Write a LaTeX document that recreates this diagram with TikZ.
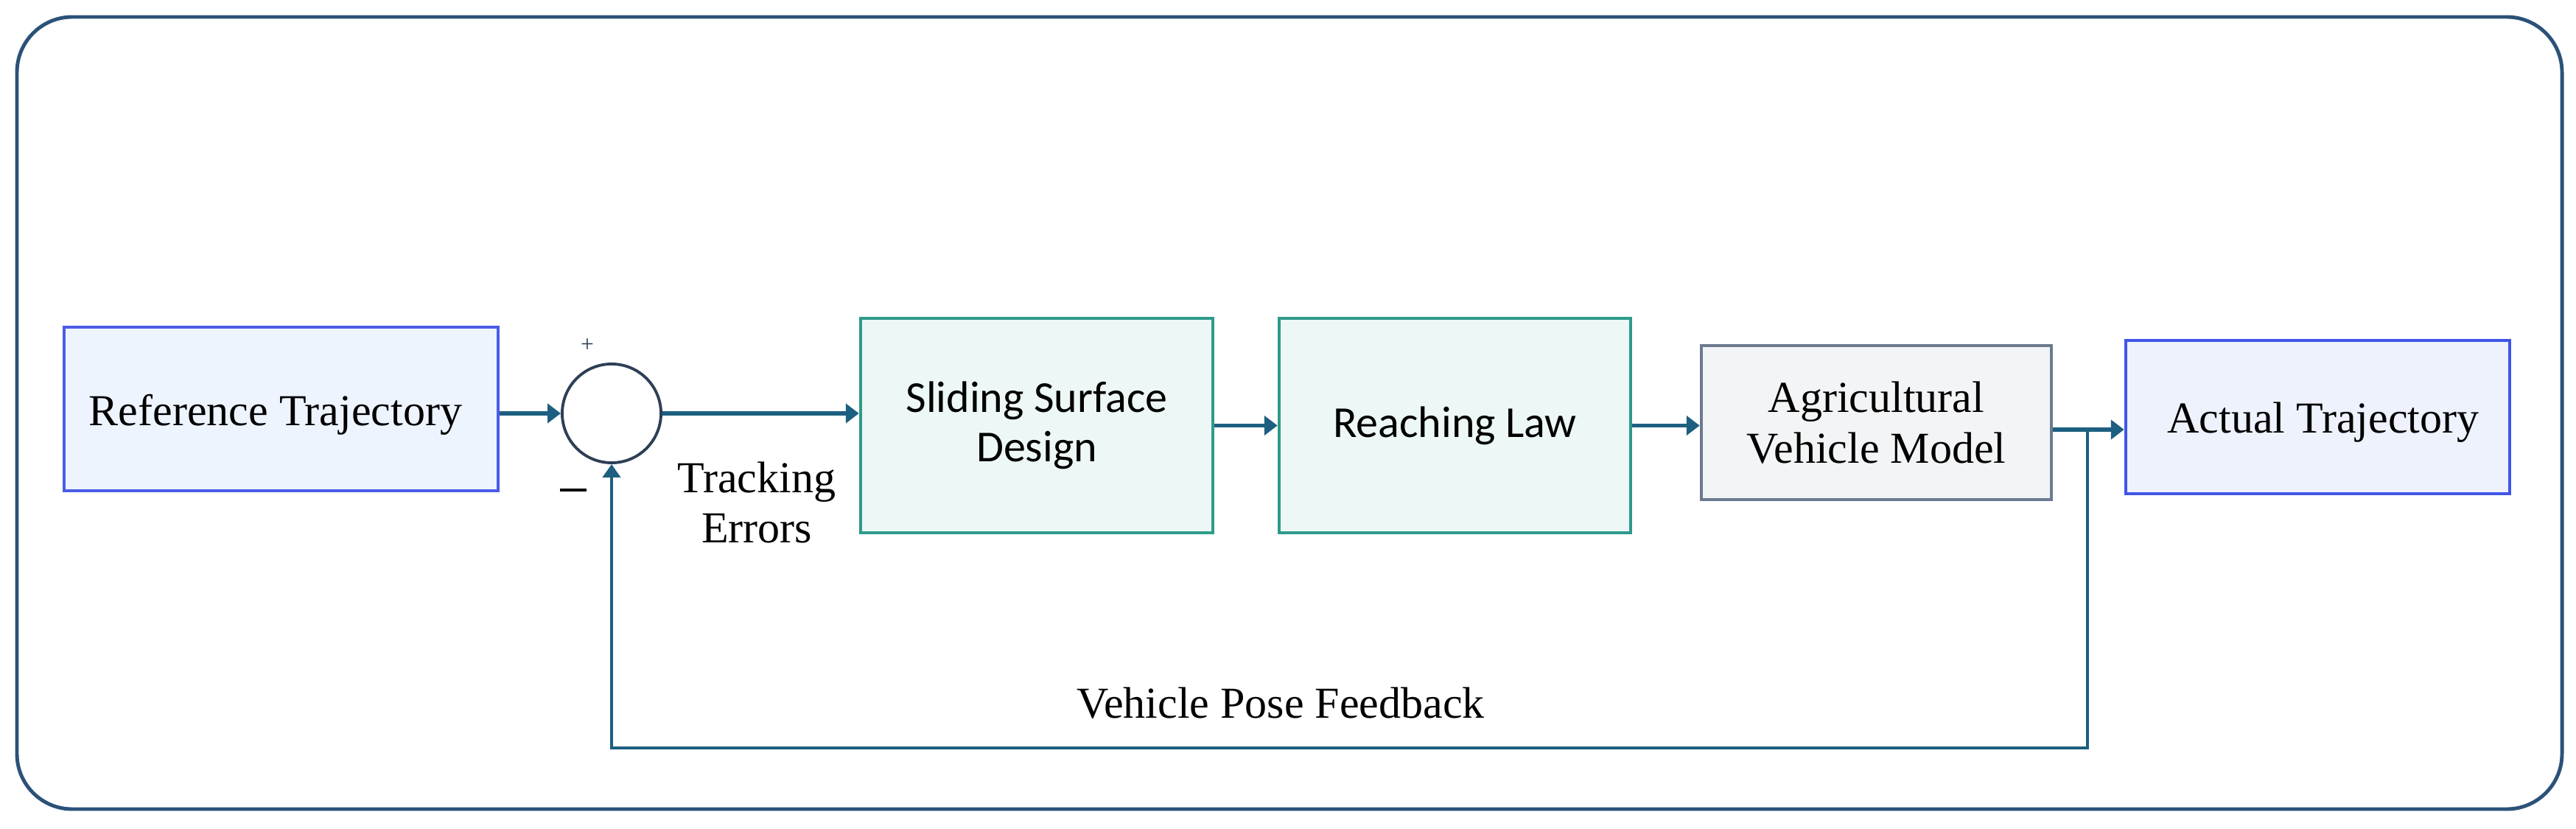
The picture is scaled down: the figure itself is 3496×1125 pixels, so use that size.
\documentclass[tikz,border=0pt]{standalone}
\usepackage{fontspec}
\setmainfont{Liberation Serif}
\newfontfamily\sansf{Carlito}
\usetikzlibrary{arrows.meta,calc}
\definecolor{framec}{HTML}{2B5278}
\definecolor{arrc}{HTML}{1D5F80}
\definecolor{refb}{HTML}{4A5CE6}
\definecolor{reff}{HTML}{EEF4FE}
\definecolor{tealb}{HTML}{2E9A8A}
\definecolor{tealf}{HTML}{EDF8F6}
\definecolor{grayb}{HTML}{6C7A8F}
\definecolor{grayf}{HTML}{F3F4F6}
\definecolor{actb}{HTML}{3F55E8}
\definecolor{actf}{HTML}{EEF2FD}
\definecolor{sumc}{HTML}{2E3F55}
\tikzset{
  x=0.01cm, y=-0.01cm,
  serifbig/.style={font=\fontsize{17.07pt}{19.5pt}\selectfont, align=center, text=black},
  sansbig/.style={font=\sansf\fontsize{17.07pt}{19.2pt}\selectfont, align=center, text=black},
  blockbox/.style={draw, line width=1.2pt, inner sep=0pt},
  arr/.style={draw=arrc, line width=1.5pt, -{Triangle[length=0.18cm,width=0.26cm]}},
  fbarr/.style={draw=arrc, line width=1.2pt, -{Triangle[length=0.18cm,width=0.24cm]}},
  frame/.style={draw=framec, line width=1.4pt, rounded corners=0.75cm}
}
\begin{document}
\begin{tikzpicture}
\useasboundingbox (0,0) rectangle (3496,1125);
\draw[frame] (23,23) rectangle (3477,1098);

\node[blockbox, serifbig, draw=refb, fill=reff, minimum width=5.89cm, minimum height=2.22cm] (ref) at (381.5,555) {\raisebox{-0.08cm}[\height][\depth]{Reference Trajectory}\hspace{0.15cm}};
\node[circle, draw=sumc, line width=1.1pt, fill=white, minimum size=1.34cm, inner sep=0pt] (sum) at (830,561) {};
\node[font=\fontsize{9pt}{10pt}\selectfont, text=sumc] (plus) at (797,469) {+};
\node[inner sep=0pt] (minus) at (778,665) {\color{black}\rule{0.35cm}{0.045cm}};
\node[serifbig] (te) at (1027,682) {Tracking\\Errors};

\node[blockbox, sansbig, draw=tealb, fill=tealf, minimum width=4.78cm, minimum height=2.91cm] (slide) at (1407,577.5) {Sliding Surface\\Design};
\node[blockbox, sansbig, draw=tealb, fill=tealf, minimum width=4.77cm, minimum height=2.91cm] (reach) at (1974.5,577.5) {Reaching Law};
\node[blockbox, serifbig, draw=grayb, fill=grayf, minimum width=4.75cm, minimum height=2.09cm] (agri) at (2546.5,573.5) {Agricultural\\Vehicle Model};
\node[blockbox, serifbig, draw=actb, fill=actf, minimum width=5.21cm, minimum height=2.08cm] (actual) at (3145.5,566) {\hspace{0.15cm}\raisebox{-0.07cm}[\height][\depth]{Actual Trajectory}};

\node[serifbig, anchor=base] (fbl) at (1738,975) {Vehicle Pose Feedback};

\coordinate (br) at (2833,583);

\draw[arr] (ref.east |- sum) -- (sum.west);
\draw[arr] (sum.east) -- (slide.west |- sum.east);
\draw[arr] (slide.east) -- (reach.west);
\draw[arr] (reach.east) -- (agri.west |- reach.east);
\draw[arr] (agri.east |- br) -- (actual.west |- br);
\draw[fbarr] (br) -- ++(0,432) -| (sum.south);
\end{tikzpicture}
\end{document}
